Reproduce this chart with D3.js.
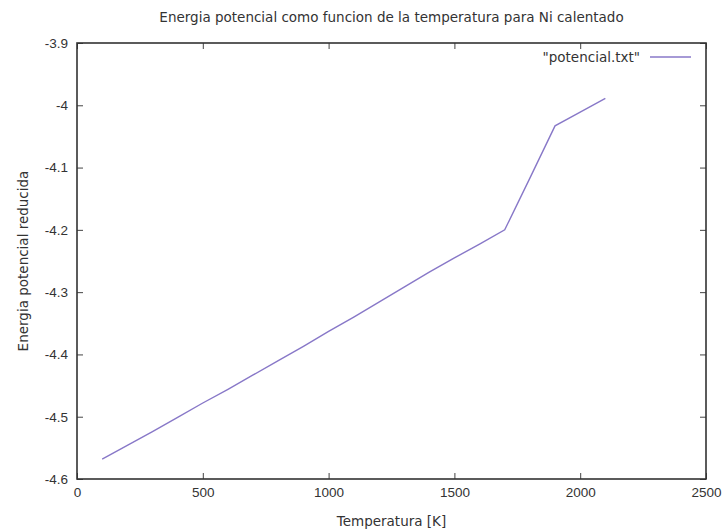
<!DOCTYPE html>
<html>
<head>
<meta charset="utf-8">
<script src="https://cdn.jsdelivr.net/npm/d3@7"></script>
<style>
  body { margin: 0; background: #fff; }
  svg { display: block; font-family: 'DejaVu Sans', sans-serif; }
  .tick text { font-size: 13.5px; fill: #333; }
</style>
</head>
<body>
<div id="chart"></div>
<script>
// temperatura [K] y energia potencial reducida
const temperatures = [100, 200, 300, 400, 500, 600, 700, 800, 900, 1000, 1100,
  1200, 1300, 1400, 1500, 1600, 1700, 1800, 1900, 2000, 2100]
const energies = [-4.568, -4.546, -4.524, -4.501, -4.478, -4.456, -4.433, -4.410,
  -4.387, -4.363, -4.340, -4.316, -4.292, -4.268, -4.245, -4.223, -4.200,
  -4.117, -4.033, -4.011, -3.989]
const xTicks = [0, 500, 1000, 1500, 2000, 2500]
const yTicks = [-3.9, -4, -4.1, -4.2, -4.3, -4.4, -4.5, -4.6]

const W = 727
const H = 531
const margin = { top: 43, right: 21, bottom: 52, left: 77 }
const width = W - margin.left - margin.right
const height = H - margin.top - margin.bottom
const fontSize = '13.5px'

const svg = d3.select('#chart').append('svg').attr('width', W).attr('height', H)
const g = svg.append('g').attr('transform', `translate(${margin.left}, ${margin.top})`)

const x = d3.scaleLinear().domain([0, 2500]).range([0, width])
const y = d3.scaleLinear().domain([-4.6, -3.9]).range([height, 0])

const fmt = (d) => String(d)

// axes with inward ticks, mirrored on top and right
g.append('g')
  .attr('transform', `translate(0, ${height})`)
  .call(d3.axisBottom(x).tickValues(xTicks).tickSize(-6).tickPadding(8).tickFormat(fmt))
g.append('g')
  .call(d3.axisTop(x).tickValues(xTicks).tickSize(-6).tickFormat(''))
g.append('g')
  .call(d3.axisLeft(y).tickValues(yTicks).tickSize(-6).tickPadding(9).tickFormat(fmt))
g.append('g')
  .attr('transform', `translate(${width}, 0)`)
  .call(d3.axisRight(y).tickValues(yTicks).tickSize(-6).tickFormat(''))

g.selectAll('.domain').remove()
g.selectAll('.tick line').attr('stroke', '#444').attr('stroke-width', 1)

g.append('rect')
  .attr('width', width)
  .attr('height', height)
  .attr('fill', 'none')
  .attr('stroke', '#333')
  .attr('stroke-width', 1.6)

const data = temperatures.map((t, i) => ({ t, e: energies[i] }))
const line = d3.line().x((d) => x(d.t)).y((d) => y(d.e))

g.append('path')
  .datum(data)
  .attr('d', line)
  .attr('fill', 'none')
  .attr('stroke', '#8878c8')
  .attr('stroke-width', 1.4)

// legend
g.append('text')
  .attr('x', width - 66)
  .attr('y', 19)
  .attr('text-anchor', 'end')
  .style('font-size', fontSize)
  .attr('fill', '#333')
  .text('"potencial.txt"')
g.append('line')
  .attr('x1', width - 56)
  .attr('x2', width - 15)
  .attr('y1', 14)
  .attr('y2', 14)
  .attr('stroke', '#8878c8')
  .attr('stroke-width', 1.4)

// titles
svg.append('text')
  .attr('x', margin.left + width / 2)
  .attr('y', 22)
  .attr('text-anchor', 'middle')
  .style('font-size', fontSize)
  .attr('fill', '#333')
  .text('Energia potencial como funcion de la temperatura para Ni calentado')

svg.append('text')
  .attr('x', margin.left + width / 2)
  .attr('y', 526)
  .attr('text-anchor', 'middle')
  .style('font-size', fontSize)
  .attr('fill', '#333')
  .text('Temperatura [K]')

svg.append('text')
  .attr('transform', `translate(28, ${margin.top + height / 2}) rotate(-90)`)
  .attr('text-anchor', 'middle')
  .style('font-size', fontSize)
  .attr('fill', '#333')
  .text('Energia potencial reducida')
</script>
</body>
</html>
